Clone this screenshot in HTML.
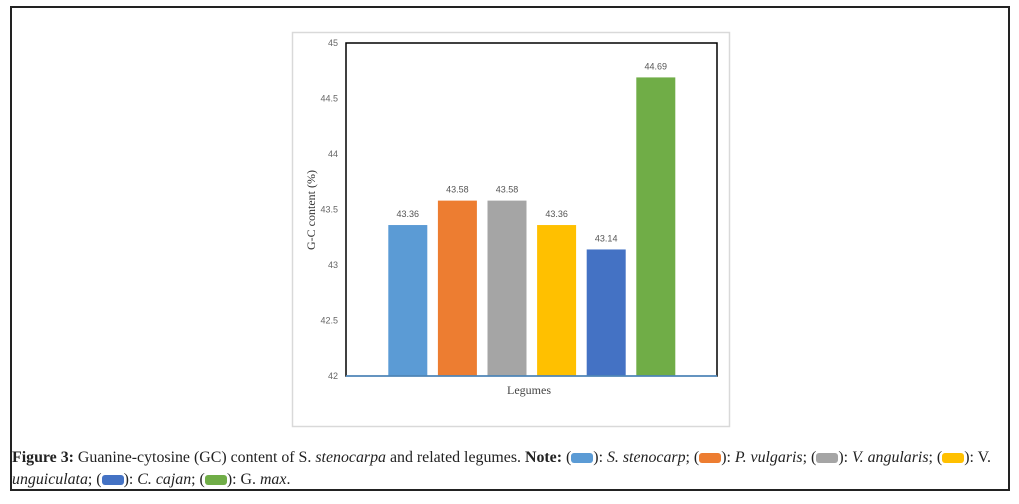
<!DOCTYPE html>
<html><head><meta charset="utf-8"><style>
body{margin:0;width:1019px;height:504px;background:#fff;position:relative;overflow:hidden;font-family:"Liberation Serif",serif}
#outer{position:absolute;left:10px;top:6px;width:1000px;height:485px;border:2px solid #222;box-sizing:border-box}
#cap{position:absolute;left:12px;top:447px;width:1010px;font-size:15.9px;line-height:22px;color:#222;white-space:nowrap}
.sw{display:inline-block;width:22px;height:10px;border-radius:3px;vertical-align:middle}
</style></head><body>
<div id="outer"></div>
<svg id="chart" width="1019" height="504" style="position:absolute;left:0;top:0">
<rect x="292.5" y="32.5" width="437" height="394" fill="#fff" stroke="#d9d9d9" stroke-width="1.5"/>
<g id="bars"></g>
<rect x="346" y="43" width="371" height="333" fill="none" stroke="#000" stroke-width="1.5"/>
<line x1="346" y1="376" x2="717" y2="376" stroke="#5b9bd5" stroke-width="1.5"/>
<g id="ticks" font-family="Liberation Sans, sans-serif" font-size="9" fill="#666"></g>
<text x="529" y="394" text-anchor="middle" font-size="12" fill="#444">Legumes</text>
<text transform="translate(315,210) rotate(-90)" text-anchor="middle" font-size="12" fill="#333">G-C content (%)</text>
</svg>
<div id="cap"><b>Figure 3:</b> Guanine-cytosine (GC) content of S. <i>stenocarpa</i> and related legumes. <b>Note:</b> (<span class="sw" style="background:#5b9bd5"></span>): <i>S. stenocarp</i>; (<span class="sw" style="background:#ed7d31"></span>): <i>P. vulgaris</i>; (<span class="sw" style="background:#a5a5a5"></span>): <i>V. angularis</i>; (<span class="sw" style="background:#ffc000"></span>): V.<br><i>unguiculata</i>; (<span class="sw" style="background:#4472c4"></span>): <i>C. cajan</i>; (<span class="sw" style="background:#70ad47"></span>): G. <i>max</i>.</div>
<script>
const categories=["S. stenocarpa","P. vulgaris","V. angularis","V. unguiculata","C. cajan","G. max"];
const values=[43.36,43.58,43.58,43.36,43.14,44.69];
const colors=["#5b9bd5","#ed7d31","#a5a5a5","#ffc000","#4472c4","#70ad47"];
const yTicks=[42,42.5,43,43.5,44,44.5,45];
const ns="http://www.w3.org/2000/svg";
const y0=376,y1=43,ymin=42,ymax=45;
const ys=v=>y0-(v-ymin)/(ymax-ymin)*(y0-y1);
const bandStart=383,pitch=49.6,bw=39;
const xs=i=>bandStart+pitch*i+(pitch-bw)/2;
const bars=document.getElementById('bars'),ticks=document.getElementById('ticks');
categories.forEach((c,i)=>{
 const r=document.createElementNS(ns,'rect');
 const x=xs(i);
 r.setAttribute('x',x);r.setAttribute('y',ys(values[i]));r.setAttribute('width',bw);r.setAttribute('height',y0-ys(values[i]));r.setAttribute('fill',colors[i]);
 
 
 bars.appendChild(r);
 const t=document.createElementNS(ns,'text');
 t.setAttribute('x',x+bw/2);t.setAttribute('y',ys(values[i])-8);t.setAttribute('text-anchor','middle');
 t.setAttribute('font-family','Liberation Sans, sans-serif');t.setAttribute('font-size','9');t.setAttribute('fill','#555');
 t.textContent=values[i].toFixed(2);
 
 
 bars.appendChild(t);
});
yTicks.forEach(v=>{
 const t=document.createElementNS(ns,'text');
 t.setAttribute('x',338);t.setAttribute('y',ys(v)+3);t.setAttribute('text-anchor','end');
 t.textContent=String(v);
 
 
 ticks.appendChild(t);
});
</script>
</body></html>
